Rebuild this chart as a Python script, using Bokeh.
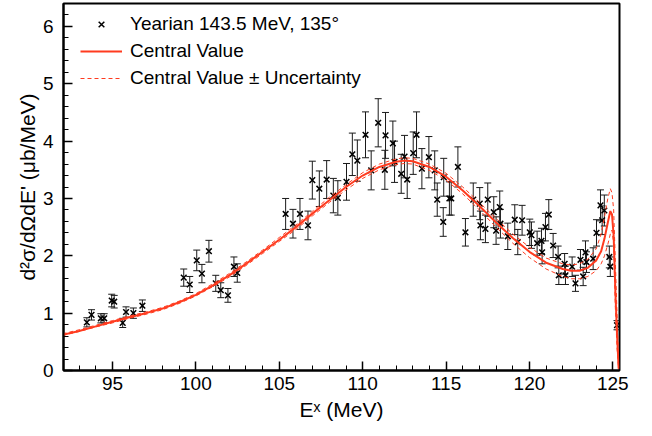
from bokeh.plotting import figure
from bokeh.models import (ColumnDataSource, Whisker, TeeHead, FixedTicker, Legend,
                          LegendItem, Range1d)
from bokeh.embed import file_html
from bokeh.resources import INLINE

# ---- measured data (Yearian 143.5 MeV, 135 deg) ----
E_data = [93.46, 93.74, 94.30, 94.50, 94.95, 95.10, 95.61, 95.81, 96.25, 96.79,
          99.27, 99.63, 100.05, 100.36, 100.78, 101.19, 101.49, 101.92, 102.28, 102.48,
          105.38, 105.82, 106.24, 106.72, 106.98, 107.40, 107.84, 108.24, 108.51, 109.03,
          109.38, 109.68, 110.17, 110.51, 110.93, 111.33, 111.37, 111.81, 111.91, 112.31,
          112.51, 112.67, 113.03, 113.23, 113.55, 113.97, 114.32, 114.47, 114.83, 114.86,
          115.20, 115.31, 115.71, 116.16, 116.63, 117.02, 117.06, 117.36, 117.50, 117.86,
          118.00, 118.22, 118.26, 118.70, 119.12, 119.30, 119.56, 120.02, 120.12, 120.46,
          120.72, 120.76, 120.96, 121.16, 121.42, 121.72, 121.76, 122.11, 122.16, 122.56,
          122.76, 123.06, 123.22, 123.36, 123.42, 123.82, 124.02, 124.26, 124.36, 124.49,
          124.79, 124.85, 125.25]
xs_data = [0.84, 0.97, 0.91, 0.91, 1.22, 1.20, 0.83, 1.02, 1.00, 1.13,
           1.62, 1.50, 1.92, 1.69, 2.08, 1.52, 1.40, 1.31, 1.81, 1.70,
           2.73, 2.56, 2.73, 2.53, 3.32, 3.17, 3.33, 3.05, 3.01, 3.29,
           3.77, 3.66, 4.11, 3.49, 4.32, 3.50, 4.10, 3.96, 3.64, 3.43,
           3.73, 3.33, 3.79, 4.11, 3.52, 3.72, 3.49, 2.98, 2.59, 3.37,
           3.00, 3.00, 3.55, 2.41, 2.98, 2.91, 2.53, 2.47, 2.98, 2.76,
           2.44, 2.85, 2.56, 2.34, 2.63, 2.24, 2.62, 2.41, 2.36, 2.22,
           2.26, 2.06, 2.50, 2.72, 2.18, 1.98, 1.66, 1.86, 1.66, 1.81,
           1.52, 1.93, 1.64, 2.06, 1.89, 1.95, 2.40, 2.88, 2.62, 2.79,
           1.98, 1.81, 0.79]
err_data = [0.08, 0.09, 0.08, 0.08, 0.11, 0.11, 0.08, 0.09, 0.09, 0.10,
            0.15, 0.14, 0.18, 0.16, 0.19, 0.14, 0.13, 0.12, 0.17, 0.16,
            0.27, 0.25, 0.27, 0.25, 0.33, 0.31, 0.33, 0.30, 0.30, 0.32,
            0.37, 0.36, 0.40, 0.34, 0.42, 0.34, 0.40, 0.39, 0.36, 0.34,
            0.37, 0.33, 0.37, 0.40, 0.35, 0.36, 0.34, 0.29, 0.25, 0.33,
            0.29, 0.29, 0.35, 0.24, 0.29, 0.28, 0.25, 0.24, 0.29, 0.27,
            0.24, 0.28, 0.25, 0.23, 0.26, 0.22, 0.26, 0.23, 0.23, 0.21,
            0.22, 0.20, 0.24, 0.26, 0.21, 0.19, 0.16, 0.18, 0.16, 0.17,
            0.14, 0.18, 0.16, 0.20, 0.18, 0.19, 0.23, 0.27, 0.25, 0.27,
            0.19, 0.17, 0.08]

# ---- theory curves ----
E_curve = [92.0, 93.0, 94.0, 95.0, 96.0, 97.0, 98.0, 99.0, 100.0, 101.0,
           102.0, 103.0, 104.0, 105.0, 106.0, 107.0, 108.0, 109.0, 110.0, 111.0,
           112.0, 112.5, 113.0, 114.0, 115.0, 116.0, 117.0, 118.0, 119.0, 120.0,
           121.0, 122.0, 122.5, 123.0, 123.5, 124.0, 124.3, 124.5, 124.7, 124.85,
           124.95, 125.05, 125.15, 125.25, 125.35]
central = [0.62, 0.69, 0.77, 0.85, 0.93, 1.00, 1.08, 1.19, 1.32, 1.48,
           1.66, 1.86, 2.07, 2.28, 2.50, 2.74, 2.97, 3.20, 3.40, 3.55,
           3.64, 3.66, 3.65, 3.55, 3.38, 3.14, 2.87, 2.58, 2.31, 2.07,
           1.88, 1.77, 1.74, 1.74, 1.79, 1.92, 2.08, 2.30, 2.58, 2.78,
           2.72, 2.35, 1.40, 0.65, 0.03]
upper = [0.64, 0.71, 0.79, 0.87, 0.95, 1.02, 1.10, 1.21, 1.34, 1.51,
         1.69, 1.89, 2.10, 2.32, 2.54, 2.78, 3.02, 3.24, 3.45, 3.60,
         3.69, 3.71, 3.70, 3.60, 3.44, 3.20, 2.93, 2.65, 2.38, 2.15,
         1.96, 1.86, 1.84, 1.86, 1.94, 2.12, 2.38, 2.68, 3.00, 3.17,
         3.10, 2.80, 1.90, 1.00, 0.05]
lower = [0.61, 0.68, 0.76, 0.83, 0.91, 0.98, 1.06, 1.17, 1.30, 1.46,
         1.63, 1.83, 2.04, 2.25, 2.46, 2.70, 2.93, 3.15, 3.35, 3.50,
         3.59, 3.61, 3.60, 3.49, 3.32, 3.08, 2.80, 2.50, 2.22, 1.97,
         1.77, 1.64, 1.60, 1.60, 1.64, 1.74, 1.86, 2.00, 2.20, 2.38,
         2.45, 2.20, 1.10, 0.40, 0.02]

x_major = [95, 100, 105, 110, 115, 120, 125]
x_minor = list(range(93, 126))
y_major = [0, 1, 2, 3, 4, 5, 6]
y_minor = [i / 5 for i in range(0, 33)]

RED = "#ff3b1f"
FONT = "Liberation Sans"

p = figure(width=652, height=436, output_backend="svg", toolbar_location=None,
           x_range=Range1d(92.06, 125.4), y_range=Range1d(0, 6.4),
           min_border_left=63, min_border_right=33, min_border_top=3,
           min_border_bottom=66)
p.background_fill_color = "white"
p.border_fill_color = "white"
p.outline_line_color = "black"
p.outline_line_width = 2
p.xgrid.visible = False
p.ygrid.visible = False

src = ColumnDataSource(dict(E=E_data, v=xs_data,
                            up=[a + b for a, b in zip(xs_data, err_data)],
                            lo=[a - b for a, b in zip(xs_data, err_data)]))
wh = Whisker(base="E", upper="up", lower="lo", source=src, dimension="height",
             line_color="#1a1a1a", line_width=1,
             upper_head=TeeHead(size=7, line_color="#1a1a1a", line_width=1),
             lower_head=TeeHead(size=7, line_color="#1a1a1a", line_width=1))
p.add_layout(wh)

r_pts = p.scatter("E", "v", source=src, marker="x", size=8, line_color="black",
                  line_width=1.5)
r_up = p.line(E_curve, upper, line_color=RED, line_width=1, line_dash="4 3")
r_lo = p.line(E_curve, lower, line_color=RED, line_width=1, line_dash="4 3")
r_c = p.line(E_curve, central, line_color=RED, line_width=2)

for ax in (p.xaxis[0], p.yaxis[0]):
    ax.major_tick_in = 9
    ax.major_tick_out = 0
    ax.minor_tick_in = 5
    ax.minor_tick_out = 0
    ax.axis_line_color = "black"
    ax.axis_line_width = 2
    ax.major_tick_line_color = "black"
    ax.minor_tick_line_color = "black"
    ax.major_tick_line_width = 1.5
    ax.minor_tick_line_width = 1
    ax.major_label_text_font = FONT
    ax.major_label_text_font_size = "19px"
    ax.major_label_text_color = "black"
    ax.axis_label_text_font = FONT
    ax.axis_label_text_font_size = "21px"
    ax.axis_label_text_font_style = "normal"
    ax.axis_label_text_color = "black"

p.xaxis.ticker = FixedTicker(ticks=x_major, minor_ticks=x_minor)
p.yaxis.ticker = FixedTicker(ticks=y_major, minor_ticks=y_minor)
p.xaxis.axis_label = "E\u02e3 (MeV)"
p.yaxis.axis_label = "d\u00b2\u03c3/d\u03a9dE' (\u03bcb/MeV)"
p.xaxis.major_label_standoff = 6
p.yaxis.major_label_standoff = 10
p.xaxis.axis_label_standoff = 5
p.yaxis.axis_label_standoff = 1

legend = Legend(items=[
    LegendItem(label="Yearian 143.5 MeV, 135\u00b0", renderers=[r_pts]),
    LegendItem(label="Central Value", renderers=[r_c]),
    LegendItem(label="Central Value \u00b1 Uncertainty", renderers=[r_up]),
], location=(17, 281))
legend.border_line_alpha = 0
legend.background_fill_alpha = 0
legend.label_text_font = FONT
legend.label_text_font_size = "19px"
legend.label_text_color = "black"
legend.glyph_width = 42
legend.glyph_height = 20
legend.label_height = 20
legend.spacing = 5
legend.padding = 0
legend.margin = 0
legend.label_standoff = 8
p.add_layout(legend)

open("out.html", "w").write(file_html(p, INLINE))
